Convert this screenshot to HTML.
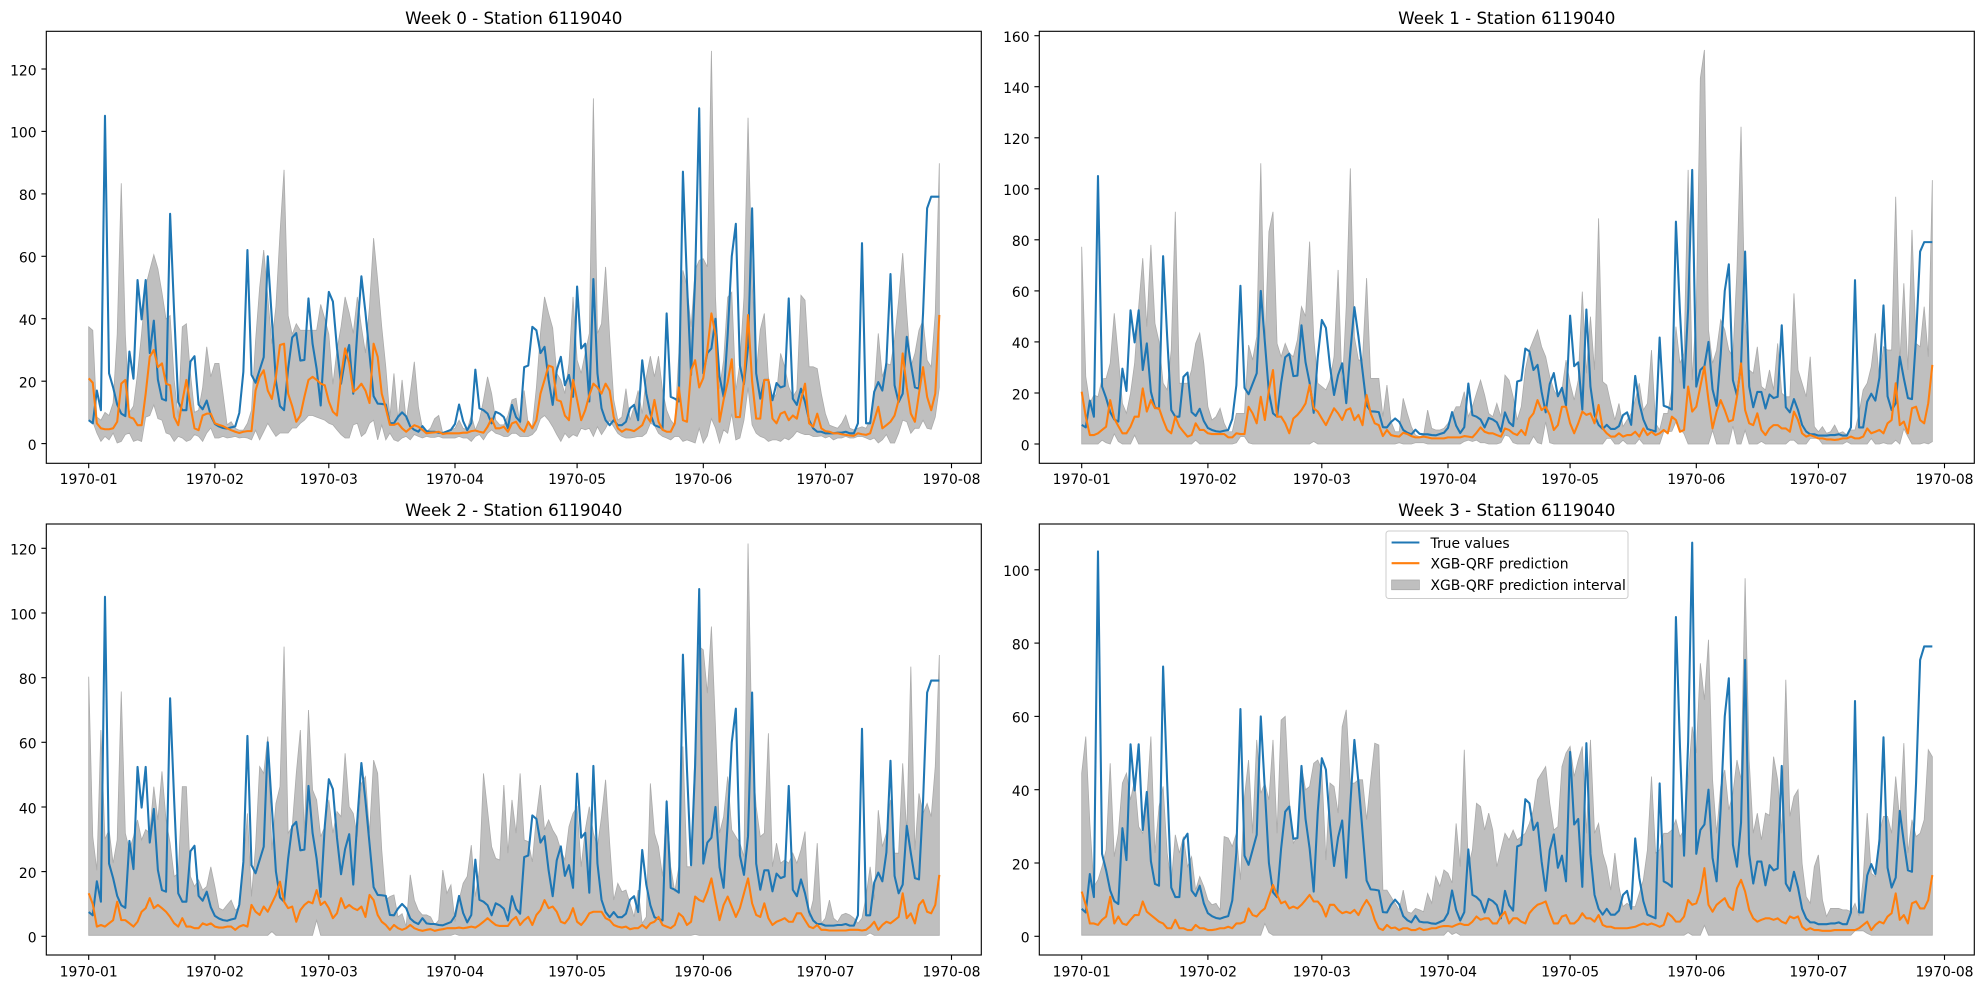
<!DOCTYPE html>
<html><head><meta charset="utf-8"><style>
html,body{margin:0;padding:0;background:#fff}
svg{display:block}
text{font-family:"DejaVu Sans","Liberation Sans",sans-serif;fill:#000}
.t{font-size:13.9px}
.ti{font-size:16.7px}
.b{fill:#bfbfbf;stroke:#ababab;stroke-width:0.8;vector-effect:non-scaling-stroke}
.lb{fill:none;stroke:#1f77b4;stroke-width:2.08;stroke-linejoin:round;vector-effect:non-scaling-stroke}
.lo{fill:none;stroke:#ff7f0e;stroke-width:2.08;stroke-linejoin:round;vector-effect:non-scaling-stroke}
.sp{fill:none;stroke:#000;stroke-width:1.11}
.tk{stroke:#000;stroke-width:1.11}
</style></head><body>
<svg width="1983" height="989" viewBox="0 0 1983 989" xmlns="http://www.w3.org/2000/svg">
<defs>
<polyline id="blue" class="lb" points="0,7.5 1,6.5 2,17 3,10.7 4,105 5,22.5 6,18 7,12.5 8,9.6 9,8.8 10,29.5 11,20.8 12,52.4 13,39.8 14,52.4 15,29 16,39.4 17,20.5 18,14.3 19,13.8 20,73.6 21,42 22,13.3 23,10.7 24,10.7 25,26.3 26,28 27,12.5 28,11 29,13.8 30,9 31,6.3 32,5.5 33,5 34,4.8 35,5.2 36,5.5 37,9.8 38,23 39,62 40,22 41,19.5 42,23.6 43,27.7 44,60 45,40 46,20 47,12 48,10.7 49,24 50,34 51,35.4 52,26.6 53,26.8 54,46.5 55,32 56,24 57,12.2 58,34 59,48.6 60,45.5 61,30.5 62,19.2 63,27 64,31.6 65,16 66,36 67,53.6 68,42 69,28.6 70,15.2 71,12.8 72,12.7 73,12.5 74,6.6 75,6.5 76,8.6 77,10 78,8.7 79,5.5 80,4.4 81,3.8 82,5.6 83,4 84,3.8 85,3.8 86,3.5 87,3.4 88,3.9 89,4.4 90,6.3 91,12.5 92,7.2 93,4.3 94,6.6 95,23.7 96,11.3 97,10.7 98,9.6 99,6.5 100,10.2 101,9.6 102,8.5 103,4.9 104,12.4 105,8.5 106,7 107,24.5 108,25 109,37.4 110,36.3 111,29 112,31 113,20.4 114,12.4 115,23.5 116,27.8 117,18.7 118,22 119,15 120,50.3 121,30.5 122,32 123,13.5 124,52.7 125,22.5 126,11.3 127,7.5 128,5.9 129,7.5 130,5.9 131,5.9 132,7 133,11.3 134,12.4 135,7.5 136,26.7 137,16 138,9.6 139,5.9 140,5.4 141,4.9 142,41.7 143,15 144,14.4 145,13.5 146,87.1 147,51.5 148,22 149,53 150,107.4 151,22.5 152,29 153,30.5 154,40 155,21.4 156,15 157,35 158,60 159,70.4 160,25 161,19 162,31 163,75.4 164,22.5 165,14.4 166,20.4 167,20.4 168,13.9 169,19.4 170,18 171,18.5 172,46.5 173,14.4 174,12.4 175,17.6 176,13.3 177,7.5 178,4.9 179,3.8 180,3.8 181,3.3 182,3.3 183,3.3 184,3.5 185,3.5 186,3.8 187,3.3 188,3.3 189,6.5 190,64.2 191,6.5 192,6.5 193,16.6 194,19.7 195,17 196,26 197,54.3 198,18.7 199,13.3 200,16 201,34.2 202,25.7 203,18 204,17.6 205,41.7 206,75.4 207,79.1 208,79.1 209,79.1"/>
<clipPath id="c1"><rect x="46.3" y="31.3" width="935" height="432"/></clipPath>
<clipPath id="c2"><rect x="1039.3" y="31.3" width="935" height="432"/></clipPath>
<clipPath id="c3"><rect x="46.3" y="524" width="935" height="431"/></clipPath>
<clipPath id="c4"><rect x="1039.3" y="524" width="935" height="431"/></clipPath>
</defs>
<rect x="0" y="0" width="1983" height="989" fill="#fff"/>

<!-- Panel 1 -->
<g clip-path="url(#c1)"><g transform="matrix(4.07 0 0 -3.1216 88.7 443.6)">
<polygon class="b" points="0,37.4 1,36.3 2,8.5 3,7.5 4,10 5,9 6,13 7,35 8,83.4 9,35 10,10 11,12 12,22.5 13,35.3 14,50.4 15,55.6 16,60.5 17,56 18,48.4 19,39.9 20,41 21,20.4 22,8.5 23,37.4 24,38.4 25,22.5 26,10 27,10.7 28,18 29,31 30,21.4 31,25.7 32,25.7 33,16 34,6 35,7 36,4.9 37,4.3 38,4.3 39,6.5 40,10.7 41,33 42,50 43,62 44,47 45,32 46,44 47,67.4 48,87.7 49,41 50,35 51,38.4 52,36.3 53,36.3 54,36.3 55,36.3 56,36.3 57,44.6 58,40 59,35 60,19 61,30 62,37.4 63,47 64,41.9 65,35.3 66,47 67,37.4 68,29 69,44 70,65.8 71,52.4 72,37.4 73,24.5 74,8.5 75,22.5 76,7.5 77,20.4 78,7.5 79,16 80,26.2 81,11.8 82,4.9 83,3.8 84,5 85,8 86,9 87,3.3 88,3.8 89,4.4 90,4.9 91,7.5 92,4.9 93,4.4 94,9 95,4.4 96,7.5 97,13.9 98,21.4 99,16 100,7.5 101,6 102,6 103,9 104,14 105,14.5 106,6 107,17 108,6 109,5.4 110,18 111,35.3 112,47 113,41.7 114,37 115,22.5 116,20.4 117,16 118,25.7 119,47 120,26.8 121,22.5 122,29 123,35.3 124,110.6 125,35.3 126,38.4 127,56.6 128,34.2 129,14 130,7.5 131,8.5 132,17.6 133,7.5 134,11.8 135,17 136,9.6 137,21.4 138,28 139,21.4 140,28 141,17 142,10.7 143,7.5 144,5.9 145,29 146,55.5 147,50.3 148,37.4 149,55.5 150,58.7 151,59.2 152,56.6 153,125.8 154,47 155,17.6 156,26.7 157,46.9 158,48.5 159,17 160,25.7 161,46.9 162,104.4 163,52.4 164,22.5 165,36.4 166,41.7 167,21.4 168,14 169,16 170,28.9 171,24.6 172,18.2 173,15 174,17.1 175,47.5 176,45.9 177,24.6 178,24.6 179,24 180,16 181,9.6 182,5.9 183,5.4 184,4.9 185,6.5 186,9.1 187,4.9 188,4.4 189,4.9 190,5.4 191,4.9 192,7.5 193,16 194,35.3 195,21.4 196,25.7 197,25.2 198,33.2 199,45.9 200,61 201,41.7 202,24.6 203,28.9 204,36.3 205,39.6 206,26.7 207,24.6 208,41.7 209,89.8 209,18 208,8.5 207,4.6 206,4.9 205,7.5 204,4.9 203,4.9 202,3.3 201,7 200,7.5 199,3.3 198,0.2 197,0.2 196,2.9 195,1.2 194,0.2 193,1.8 192,1.2 191,1.8 190,2.3 189,2.3 188,1.8 187,1.8 186,2.3 185,1.8 184,1.8 183,1.2 182,2.3 181,1.8 180,2.5 179,2.3 178,2.3 177,2.9 176,2.9 175,3.3 174,3.9 173,2.3 172,1.2 171,1.8 170,0.7 169,1.2 168,1.2 167,0.7 166,1.8 165,2.3 164,3.3 163,6 162,18 161,7.5 160,1.8 159,1.2 158,9.6 157,3.3 156,4.4 155,0.2 154,5 153,8 152,2.5 151,0.2 150,4.9 149,0.2 148,0.7 147,1.2 146,0.7 145,2.3 144,2.3 143,1.2 142,1.8 141,2.3 140,3.3 139,5.9 138,6.5 137,3.3 136,2.3 135,2.3 134,2 133,1.8 132,1.8 131,2.3 130,3.3 129,5.4 128,7.5 127,4.9 126,2.9 125,5.4 124,2.3 123,4.9 122,4.4 121,4.9 120,2.3 119,2.9 118,1.8 117,3.3 116,0.7 115,2.9 114,5.4 113,7.5 112,9 111,8 110,4.4 109,2.9 108,2.3 107,2.3 106,2.3 105,3.3 104,3.3 103,2.3 102,2.3 101,2.9 100,3.3 99,4.4 98,3.3 97,1.2 96,2.9 95,2.3 94,0.7 93,1.8 92,1.8 91,2.3 90,1.8 89,1.8 88,1.8 87,1.8 86,2.3 85,2 84,2 83,2.3 82,1.8 81,2.3 80,2.9 79,1.2 78,2.3 77,1.8 76,0.7 75,1.2 74,3.4 73,1.2 72,6 71,1.2 70,7.5 69,6.5 68,3.4 67,2.3 66,6.5 65,6 64,1.8 63,1.8 62,2.9 61,4.4 60,6 59,6.5 58,7.5 57,8 56,8.5 55,9 54,9 53,7.5 52,6.5 51,5 50,5 49,3.4 48,3.4 47,3.4 46,2.3 45,4.3 44,6.5 43,3.8 42,1.2 41,4.3 40,1.2 39,1.8 38,2 37,1.8 36,2.3 35,2 34,1.8 33,2.3 32,1.8 31,1.8 30,5 29,3.4 28,0.7 27,2.3 26,2.9 25,1.2 24,0.7 23,1.8 22,2.3 21,0.7 20,2.9 19,3.4 18,7.5 17,8 16,12.4 15,9 14,8.5 13,0.7 12,1.2 11,0.7 10,3.4 9,2.9 8,0.7 7,0.2 6,3.4 5,1.2 4,2.3 3,0.7 2,3.4 1,7 0,7.5"/>
<use href="#blue"/>
<polyline class="lo" points="0,20.9 1,19.5 2,6.5 3,4.9 4,4.6 5,4.6 6,4.9 7,7 8,19.2 9,20.4 10,8.5 11,8 12,5.9 13,5.9 14,16 15,27.8 16,30 17,24.5 18,25.7 19,19.2 20,18.7 21,8.5 22,5.9 23,13.5 24,20.4 25,12 26,4.9 27,4.3 28,9 29,9.6 30,9.6 31,6.5 32,6 33,5.6 34,4.9 35,4.3 36,3.8 37,3.4 38,3.8 39,4 40,4 41,17 42,21.4 43,23.5 44,17 45,14.3 46,21.4 47,31.6 48,32 49,16 50,12 51,7 52,9 53,15 54,20.4 55,21.4 56,20.4 57,19.2 58,18.7 59,13.5 60,10.2 61,9 62,21.4 63,30.5 64,25.7 65,16.6 66,17.6 67,19.2 68,17 69,13 70,32 71,27.8 72,16 73,11.3 74,6 75,6 76,6.5 77,4.9 78,3.8 79,4.9 80,5.9 81,5.4 82,4.4 83,3.3 84,3.5 85,3.6 86,3.8 87,3.1 88,3.3 89,3.3 90,3.3 91,3.3 92,3.5 93,3.5 94,4 95,4.2 96,3.8 97,3.5 98,5.4 99,8 100,4.9 101,4.9 102,5.4 103,3.8 104,6.5 105,7 106,4.9 107,3.8 108,7 109,4.9 110,7.5 111,16 112,20.4 113,25 114,24.5 115,14 116,13.5 117,9 118,7.5 119,20.4 120,14 121,7.5 122,10.7 123,15.5 124,19.2 125,18 126,16 127,19.2 128,17 129,8.5 130,4.9 131,3.8 132,4.6 133,4.4 134,4 135,4.9 136,5.9 137,9 138,7 139,14 140,7 141,4.4 142,3.8 143,3.8 144,6.5 145,18 146,7.5 147,7 148,23.5 149,26.7 150,18 151,21 152,30 153,41.7 154,35 155,7 156,14 157,19.7 158,27 159,8.5 160,8.5 161,20 162,41.2 163,20 164,8 165,8 166,20.4 167,20.4 168,8 169,6.5 170,9.6 171,10.2 172,7.5 173,9 174,8 175,13.9 176,19.2 177,6.5 178,5.4 179,9.6 180,4.9 181,4 182,3.8 183,3.3 184,3.3 185,3 186,2.8 187,2.6 188,2.5 189,3.3 190,3 191,2.8 192,3.3 193,7.5 194,11.8 195,4.9 196,5.9 197,7 198,9 199,13.9 200,28.9 201,18 202,9.6 203,7 204,16 205,24.5 206,15 207,10.7 208,16 209,41.2"/>
</g></g>
<rect class="sp" x="46.3" y="31.3" width="935" height="432"/>
<g class="tk">
<line x1="41.4" y1="443.6" x2="46.3" y2="443.6"/><line x1="41.4" y1="381.2" x2="46.3" y2="381.2"/><line x1="41.4" y1="318.7" x2="46.3" y2="318.7"/><line x1="41.4" y1="256.3" x2="46.3" y2="256.3"/><line x1="41.4" y1="193.9" x2="46.3" y2="193.9"/><line x1="41.4" y1="131.4" x2="46.3" y2="131.4"/><line x1="41.4" y1="69" x2="46.3" y2="69"/>
<line x1="88.7" y1="463.3" x2="88.7" y2="468.2"/><line x1="214.9" y1="463.3" x2="214.9" y2="468.2"/><line x1="328.8" y1="463.3" x2="328.8" y2="468.2"/><line x1="455" y1="463.3" x2="455" y2="468.2"/><line x1="577.1" y1="463.3" x2="577.1" y2="468.2"/><line x1="703.3" y1="463.3" x2="703.3" y2="468.2"/><line x1="825.4" y1="463.3" x2="825.4" y2="468.2"/><line x1="951.5" y1="463.3" x2="951.5" y2="468.2"/>
</g>
<g class="t" text-anchor="end">
<text x="36.6" y="449.9">0</text><text x="36.6" y="387.5">20</text><text x="36.6" y="325">40</text><text x="36.6" y="262.6">60</text><text x="36.6" y="200.2">80</text><text x="36.6" y="137.7">100</text><text x="36.6" y="75.3">120</text>
</g>
<g class="t" text-anchor="middle">
<text x="88.7" y="484">1970-01</text><text x="214.9" y="484">1970-02</text><text x="328.8" y="484">1970-03</text><text x="455" y="484">1970-04</text><text x="577.1" y="484">1970-05</text><text x="703.3" y="484">1970-06</text><text x="825.4" y="484">1970-07</text><text x="951.5" y="484">1970-08</text>
</g>
<text class="ti" x="513.8" y="24" text-anchor="middle">Week 0 - Station 6119040</text>

<!-- Panel 2 -->
<g clip-path="url(#c2)"><g transform="matrix(4.07 0 0 -2.552 1081.7 444)">
<polygon class="b" points="0,77.3 1,26.4 2,15.9 3,19.2 4,18.5 5,25.5 6,25.7 7,31.6 8,51.2 9,34.2 10,15.9 11,12 12,19.9 13,31.6 14,53.8 15,72.8 16,46 17,78 18,47.3 19,40.1 20,23.8 21,21.2 22,36.8 23,91 24,23.8 25,23.8 26,23.8 27,29 28,39.4 29,43.4 30,31.6 31,14.6 32,9.4 33,10.7 34,14 35,8.1 36,4.8 37,4.8 38,12 39,12 40,12 41,38.8 42,32.9 43,42 44,110 45,38.1 46,83.2 47,91 48,39.4 49,34.2 50,39.4 51,35.5 52,34.2 53,40.8 54,53.8 55,50 56,79.3 57,42 58,23.8 59,22.5 60,21.2 61,25 62,34.2 63,68.2 64,21.2 65,53.8 66,108 67,42 68,32.9 69,32.9 70,65 71,25.7 72,25.7 73,25.7 74,10.7 75,23.1 76,8.8 77,4.8 78,4.8 79,17.9 80,12 81,6.8 82,3.5 83,2.9 84,3.5 85,13.3 86,6.1 87,5.5 88,5.5 89,6.1 90,8.1 91,11.4 92,14.6 93,14.6 94,20.5 95,10.7 96,14.6 97,19.9 98,25 99,19.2 100,12 101,10.7 102,15.9 103,10.7 104,27 105,25 106,18.5 107,9.4 108,14.6 109,29 110,36.8 111,40.8 112,44.7 113,38.1 114,34.2 115,26.4 116,21.2 117,18.5 118,21.2 119,32.9 120,23.8 121,17.2 122,25 123,59.7 124,27.7 125,49.9 126,29 127,88.4 128,24.4 129,23.1 130,15.9 131,9.4 132,15.9 133,6.8 134,9.4 135,12 136,17.2 137,23.8 138,13.3 139,15.9 140,36.8 141,8.1 142,5.5 143,12 144,12 145,21.2 146,46 147,31.6 148,35.5 149,107.4 150,25 151,52.5 152,143.3 153,154.4 154,44.7 155,31.6 156,36.8 157,48.6 158,44.7 159,36.8 160,34.2 161,68.2 162,124.3 163,48.6 164,29 165,27.7 166,38.1 167,22.5 168,21.2 169,29 170,21.2 171,39.4 172,19.9 173,18.5 174,18.5 175,59 176,29 177,23.8 178,18.5 179,34.2 180,6.8 181,4.8 182,6.8 183,4.2 184,4.8 185,7.4 186,4.2 187,4.8 188,3.5 189,5.5 190,5.5 191,12 192,21.2 193,23.8 194,30.3 195,43.4 196,25 197,38.1 198,36.8 199,36.8 200,96.9 201,31.6 202,63 203,29 204,83.9 205,39.4 206,38.1 207,53.8 208,34.2 209,103.4 209,0.9 208,0 207,0.5 206,0 204,0 203,2.9 202,6 201,0 200,1.5 199,0 198,0 197,0.5 196,0 195,0 194,2.2 193,0 189,0 188,0.9 187,0 182,0 181,2.2 180,2.2 179,2.2 178,0 176,0 175,1.5 174,1.5 173,0 168,0 167,1 166,0 164,0 163,5.4 162,0 161,0 160,7 159,0 156,0 155,5.4 154,0 149,0 148,4 147,6 146,8.7 145,5 144,4.8 143,4.8 142,0 138,0 137,2 136,0 134,0 133,1.5 132,0 131,0 130,2.2 129,2.2 128,0 116,0 115,0.5 114,8.7 113,0 112,0.5 111,3 110,0 107,0 106,0.5 105,3 104,3.5 103,0.5 102,0 100,0 99,0.5 98,0.5 97,1.5 96,1 95,1.5 94,1 93,0 85,0 84,0.5 83,0.5 82,0.5 81,0 79,0 78,0.5 77,0 58,0 57,1 56,0 42,0 41,0.5 40,2.9 39,2.9 38,0.5 37,0 29,0 28,1.5 27,0 14,0 13,3.5 12,0 10,0 9,1 8,4 7,0 6,0.5 5,1.5 4,0 0,0"/>
<use href="#blue"/>
<polyline class="lo" points="0,20.5 1,10.7 2,3.5 3,3.5 4,4.2 5,5.5 6,6.8 7,17.2 8,10 9,7 10,4.2 11,4.2 12,6.8 13,10.7 14,10.7 15,21.8 16,12.7 17,17.2 18,14 19,14 20,9.4 21,5.5 22,4.2 23,10.7 24,6.8 25,4.8 26,2.9 27,3.5 28,8.1 29,5.5 30,5.5 31,4.2 32,3.9 33,3.9 34,3.9 35,3.9 36,2.6 37,2.6 38,4.2 39,3.9 40,3.9 41,14.6 42,12 43,8.1 44,18.5 45,9.4 46,21.2 47,29 48,10.7 49,10.7 50,8.1 51,4.2 52,10 53,11.4 54,13.3 55,15.9 56,23.1 57,14 58,12.7 59,10 60,7.4 61,10.7 62,14 63,12 64,9.4 65,13.3 66,14 67,9.4 68,11.4 69,7.4 70,19.2 71,12 72,8.1 73,7.4 74,3.1 75,5.5 76,3.5 77,3.1 78,2.9 79,4.4 80,3.9 81,3.1 82,2.6 83,2.6 84,2.9 85,2.6 86,2.2 87,2.2 88,2.2 89,2.2 90,2.6 91,2.6 92,2.6 93,2.6 94,3.1 95,2.9 96,2.6 97,4.4 98,6.5 99,4.8 100,4.2 101,4.2 102,3.5 103,2.9 104,6.1 105,5.5 106,4.2 107,3.5 108,5.5 109,3.5 110,10 111,12 112,17.2 113,13.3 114,14.6 115,11.4 116,5.5 117,7.4 118,14.6 119,14.6 120,8.1 121,4.2 122,8.1 123,12.7 124,11.4 125,12 126,8.1 127,15.3 128,6.1 129,4.2 130,2.9 131,2.9 132,4.2 133,2.9 134,3.5 135,3.5 136,4.8 137,2.9 138,6.1 139,3.5 140,4.8 141,3.5 142,4.2 143,5.5 144,4.2 145,10.7 146,9.4 147,4.8 148,5.5 149,22.5 150,12.7 151,14.6 152,22.5 153,30.3 154,17.2 155,6.1 156,12.7 157,17.2 158,13.3 159,8.8 160,9.4 161,18.5 162,31.6 163,13.3 164,8.1 165,7.4 166,12 167,5.5 168,3.5 169,6.1 170,7.4 171,7.4 172,6.1 173,6.1 174,4.8 175,12.7 176,9.4 177,4.2 178,2.9 179,3.5 180,2.9 181,2.2 182,2.2 183,1.8 184,1.8 185,1.6 186,1.8 187,2.2 188,2.2 189,2.9 190,2.2 191,2.2 192,2.9 193,6.1 194,4.2 195,4.8 196,5.5 197,4.2 198,8.1 199,9.4 200,23.8 201,7.4 202,8.8 203,4.2 204,14 205,14.6 206,9.4 207,8.1 208,16 209,31"/>
</g></g>
<rect class="sp" x="1039.3" y="31.3" width="935" height="432"/>
<g class="tk">
<line x1="1034.4" y1="444" x2="1039.3" y2="444"/><line x1="1034.4" y1="393" x2="1039.3" y2="393"/><line x1="1034.4" y1="341.9" x2="1039.3" y2="341.9"/><line x1="1034.4" y1="290.9" x2="1039.3" y2="290.9"/><line x1="1034.4" y1="239.8" x2="1039.3" y2="239.8"/><line x1="1034.4" y1="188.8" x2="1039.3" y2="188.8"/><line x1="1034.4" y1="137.8" x2="1039.3" y2="137.8"/><line x1="1034.4" y1="86.7" x2="1039.3" y2="86.7"/><line x1="1034.4" y1="35.7" x2="1039.3" y2="35.7"/>
<line x1="1081.7" y1="463.3" x2="1081.7" y2="468.2"/><line x1="1207.9" y1="463.3" x2="1207.9" y2="468.2"/><line x1="1321.8" y1="463.3" x2="1321.8" y2="468.2"/><line x1="1448" y1="463.3" x2="1448" y2="468.2"/><line x1="1570.1" y1="463.3" x2="1570.1" y2="468.2"/><line x1="1696.3" y1="463.3" x2="1696.3" y2="468.2"/><line x1="1818.4" y1="463.3" x2="1818.4" y2="468.2"/><line x1="1944.5" y1="463.3" x2="1944.5" y2="468.2"/>
</g>
<g class="t" text-anchor="end">
<text x="1029.6" y="450.3">0</text><text x="1029.6" y="399.3">20</text><text x="1029.6" y="348.2">40</text><text x="1029.6" y="297.2">60</text><text x="1029.6" y="246.1">80</text><text x="1029.6" y="195.1">100</text><text x="1029.6" y="144.1">120</text><text x="1029.6" y="93">140</text><text x="1029.6" y="42">160</text>
</g>
<g class="t" text-anchor="middle">
<text x="1081.7" y="484">1970-01</text><text x="1207.9" y="484">1970-02</text><text x="1321.8" y="484">1970-03</text><text x="1448" y="484">1970-04</text><text x="1570.1" y="484">1970-05</text><text x="1696.3" y="484">1970-06</text><text x="1818.4" y="484">1970-07</text><text x="1944.5" y="484">1970-08</text>
</g>
<text class="ti" x="1506.8" y="24" text-anchor="middle">Week 1 - Station 6119040</text>

<!-- Panel 3 -->
<g clip-path="url(#c3)"><g transform="matrix(4.07 0 0 -3.233 88.7 936.3)">
<polygon class="b" points="0,80.3 1,30.8 2,20.4 3,63.8 4,30 5,33 6,22.6 7,29.8 8,75.7 9,31.9 10,26.7 11,30.8 12,36 13,29.8 14,33 15,32 16,46.3 17,36 18,51 19,36 20,28.8 21,18.5 22,19.5 23,46.3 24,46.3 25,18.5 26,15.4 27,17.4 28,14.3 29,15.4 30,21.5 31,15.4 32,8.7 33,8.1 34,9.7 35,11.2 36,8.1 37,9 38,21.5 39,38 40,12.3 41,27.7 42,52.5 43,50.4 44,61.8 45,26.7 46,41.1 47,46.3 48,89.6 49,31.9 50,33.9 51,50.4 52,63.8 53,31.9 54,70 55,45.3 56,42.2 57,30.8 58,33.9 59,42.2 60,31.9 61,38.6 62,37 63,56.6 64,40.1 65,38 66,30.8 67,47.3 68,49.4 69,31.9 70,54.5 71,50.4 72,26.7 73,11.2 74,12.3 75,12.8 76,6 77,7 78,3 79,19 80,11.2 81,8 82,6.6 83,6.6 84,6 85,3.5 86,5 87,20.5 88,13.3 89,15.9 90,4.5 91,11.2 92,16.4 93,18.5 94,28.2 95,12.3 96,20.5 97,50.4 98,39 99,27.7 100,24.1 101,23.6 102,46.8 103,25.7 104,42.2 105,31.9 106,50.4 107,29.8 108,29.3 109,23 110,37 111,46.8 112,32.9 113,36 114,32.9 115,30.8 116,26.7 117,23.6 118,33.9 119,38 120,40.1 121,21.5 122,32.9 123,40.1 124,31.9 125,27.7 126,37 127,48.4 128,28.8 129,11.2 130,16.4 131,13.8 132,14.3 133,10.2 134,6 135,14.3 136,4 137,6 138,47.3 139,31.9 140,27.7 141,18.5 142,42.2 143,21.5 144,13.8 145,21.5 146,58.7 147,21.5 148,21.5 149,58.7 150,89.6 151,88.6 152,75.2 153,95.8 154,64.8 155,31.9 156,37 157,49.4 158,32.9 159,30.8 160,28.8 161,24.6 162,121.5 163,56.6 164,40.1 165,30.8 166,31.9 167,62.8 168,21.5 169,28.8 170,22.6 171,23.6 172,22.6 173,25.7 174,22.6 175,26.7 176,32.4 177,6 178,11.2 179,28.8 180,4 181,5.6 182,11.2 183,5.6 184,4.5 185,6.6 186,7.1 187,6.6 188,5.6 189,4 190,5.6 191,12.3 192,21.5 193,11.2 194,39 195,27.7 196,31.9 197,42.2 198,25.7 199,25.7 200,53.5 201,31.9 202,83.4 203,26.7 204,44.2 205,38 206,41.1 207,37 208,52.5 209,87 209,0.3 193,0.3 192,1 191,0.3 150,0.3 149,0.6 148,0.3 91,0.3 90,0.7 89,0.3 57,0.3 56,5 55,0.3 46,0.3 45,1.5 44,0.3 0,0.3"/>
<use href="#blue"/>
<polyline class="lo" points="0,13.3 1,10 2,3 3,3.5 4,3 5,4 6,5 7,10.7 8,5 9,5 10,4 11,3 12,4.5 13,7.6 14,8.7 15,11.8 16,8.7 17,9.7 18,8.7 19,7.6 20,6 21,4 22,3 23,5.6 24,3 25,3 26,2.5 27,2.5 28,4 29,3.5 30,4 31,3 32,2.7 33,2.7 34,3 35,3 36,2 37,3 38,3.5 39,3 40,9.7 41,7.6 42,6.6 43,9.2 44,7.6 45,10.2 46,12.8 47,16.9 48,10.7 49,8.7 50,9.2 51,4.5 52,8.1 53,9.7 54,10.7 55,10.2 56,14.3 57,9.7 58,10.7 59,8.7 60,5.6 61,7.1 62,11.8 63,8.7 64,9.7 65,8.7 66,8.1 67,9.2 68,6 69,12.8 70,11.2 71,6.6 72,4.5 73,3.5 74,2 75,3.5 76,2.5 77,2 78,2.5 79,3.5 80,2.5 81,2 82,1.7 83,2 84,2.2 85,1.7 86,2 87,2.2 88,2.5 89,2.5 90,2.5 91,2.7 92,2.5 93,2.7 94,3 95,2.7 96,3.5 97,4.5 98,5.6 99,4.5 100,3.5 101,3.2 102,3.2 103,3.2 104,5 105,6 106,3.5 107,5 108,6 109,3.5 110,6.6 111,8.1 112,11.2 113,8.7 114,9.2 115,7.6 116,4.5 117,4 118,5.6 119,8.7 120,4.5 121,3.5 122,5 123,7.1 124,7.6 125,7.6 126,7.6 127,5.6 128,5 129,3.5 130,3 131,2.7 132,3 133,2.2 134,2.5 135,2.5 136,3.5 137,2.5 138,4 139,4.5 140,6 141,3.5 142,3 143,2.5 144,3.5 145,7.1 146,6 147,3.5 148,4.5 149,12.3 150,11.2 151,10.7 152,13.8 153,17.9 154,11.2 155,5 156,9.7 157,12.3 158,9.2 159,6 160,8.7 161,13.3 162,17.9 163,10.2 164,6.6 165,6 166,10.2 167,5.6 168,3.5 169,4.5 170,5 171,5.6 172,4.5 173,4.5 174,7.1 175,7.1 176,5 177,3 178,2.5 179,3.5 180,2 181,2 182,1.8 183,1.8 184,1.8 185,1.8 186,1.8 187,2 188,2 189,2 190,1.8 191,2 192,3 193,4.5 194,2 195,3.5 196,4.5 197,4 198,5 199,6 200,13.3 201,5.6 202,7.1 203,4 204,9.7 205,11.2 206,7.6 207,7.1 208,9.7 209,19"/>
</g></g>
<rect class="sp" x="46.3" y="524" width="935" height="431"/>
<g class="tk">
<line x1="41.4" y1="936.3" x2="46.3" y2="936.3"/><line x1="41.4" y1="871.6" x2="46.3" y2="871.6"/><line x1="41.4" y1="807" x2="46.3" y2="807"/><line x1="41.4" y1="742.3" x2="46.3" y2="742.3"/><line x1="41.4" y1="677.7" x2="46.3" y2="677.7"/><line x1="41.4" y1="613" x2="46.3" y2="613"/><line x1="41.4" y1="548.3" x2="46.3" y2="548.3"/>
<line x1="88.7" y1="955" x2="88.7" y2="959.9"/><line x1="214.9" y1="955" x2="214.9" y2="959.9"/><line x1="328.8" y1="955" x2="328.8" y2="959.9"/><line x1="455" y1="955" x2="455" y2="959.9"/><line x1="577.1" y1="955" x2="577.1" y2="959.9"/><line x1="703.3" y1="955" x2="703.3" y2="959.9"/><line x1="825.4" y1="955" x2="825.4" y2="959.9"/><line x1="951.5" y1="955" x2="951.5" y2="959.9"/>
</g>
<g class="t" text-anchor="end">
<text x="36.6" y="942.6">0</text><text x="36.6" y="877.9">20</text><text x="36.6" y="813.3">40</text><text x="36.6" y="748.6">60</text><text x="36.6" y="684">80</text><text x="36.6" y="619.3">100</text><text x="36.6" y="554.6">120</text>
</g>
<g class="t" text-anchor="middle">
<text x="88.7" y="976.5">1970-01</text><text x="214.9" y="976.5">1970-02</text><text x="328.8" y="976.5">1970-03</text><text x="455" y="976.5">1970-04</text><text x="577.1" y="976.5">1970-05</text><text x="703.3" y="976.5">1970-06</text><text x="825.4" y="976.5">1970-07</text><text x="951.5" y="976.5">1970-08</text>
</g>
<text class="ti" x="513.8" y="516" text-anchor="middle">Week 2 - Station 6119040</text>

<!-- Panel 4 -->
<g clip-path="url(#c4)"><g transform="matrix(4.07 0 0 -3.665 1081.7 936.3)">
<polygon class="b" points="0,44.5 1,54.5 2,30.8 3,13.6 4,15.4 5,19 6,23.6 7,47.2 8,21.7 9,28.1 10,41.8 11,44.5 12,37.2 13,42.7 14,29.9 15,28.1 16,37.2 17,54.5 18,22.7 19,35.4 20,40.9 21,22.7 22,14.5 23,27.7 24,22.7 25,27.2 26,19 27,21.7 28,12.6 29,16.3 30,13.6 31,9.9 32,8.6 33,9 34,7.2 35,27.2 36,26.8 37,24.5 38,28.1 39,15.4 40,38.1 41,48.1 42,28.1 43,53.6 44,39 45,41.8 46,37.2 47,53.6 48,28.1 49,59 50,60 51,37.2 52,25.4 53,27.2 54,46.3 55,40 56,40.9 57,47.2 58,48.1 59,45.4 60,20.8 61,41.8 62,40.9 63,33.6 64,57.2 65,61.8 66,41.8 67,41.8 68,42.7 69,42.7 70,31.8 71,42.7 72,52.7 73,52.2 74,12.6 75,12.6 76,10.8 77,9 78,7.2 79,12.6 80,6.7 81,6.3 82,7.6 83,7.2 84,6.7 85,11.7 86,9 87,16.3 88,13.6 89,18.1 90,17.2 91,14.5 92,30.8 93,19 94,50.9 95,19 96,23.6 97,36.3 98,35.4 99,29 100,33.6 101,29 102,19 103,23.6 104,28.1 105,26.3 106,29 107,26.3 108,27.2 109,28.1 110,30.8 111,34.5 112,42.7 113,44.5 114,46.3 115,36.3 116,29 117,29.9 118,46.3 119,50 120,51.8 121,43.6 122,48.1 123,51.8 124,28.1 125,53.6 126,28.1 127,30.8 128,22.7 129,19 130,12.6 131,22.7 132,13.6 133,8.1 134,9 135,8.1 136,8.1 137,11.7 138,15.4 139,23.6 140,43.6 141,22.7 142,23.6 143,28.1 144,28.1 145,29 146,31.8 147,27.2 148,29 149,42.7 150,57.2 151,50 152,74.5 153,64.5 154,80.9 155,42.7 156,28.1 157,40.9 158,45.4 159,34.5 160,39 161,48.1 162,42.7 163,97.7 164,48.1 165,28.1 166,33.6 167,26.3 168,33.6 169,33 170,49 171,42.7 172,28.1 173,70 174,32.7 175,38.1 176,40 177,19.9 178,10.8 179,9 180,19 181,22.2 182,9.9 183,5.4 184,7.6 185,7.6 186,7.6 187,7.2 188,7.2 189,6.7 190,9 191,5.5 192,15.4 193,33.6 194,17.2 195,16.3 196,28.1 197,32.7 198,32.7 199,28.1 200,43.6 201,31.8 202,52.7 203,22.7 204,31.8 205,27.2 206,28.1 207,31.8 208,50.9 209,49 209,0.3 194,0.3 193,0.8 192,1.5 191,1.5 190,1.5 189,0.3 154,0.3 153,3 152,0.3 150,0.3 149,1 148,0.3 93,0.3 92,1 91,0.5 90,1.5 89,0.3 47,0.3 46,1 45,3.5 44,0.3 0,0.3"/>
<use href="#blue"/>
<polyline class="lo" points="0,12.2 1,8.6 2,3.5 3,3.5 4,3.1 5,4.5 6,5.4 7,10.8 8,3.5 9,5.4 10,3.5 11,3.1 12,4.5 13,5.8 14,5.8 15,9.5 16,6.7 17,5.8 18,4.9 19,4 20,3.5 21,2.2 22,2.2 23,4.5 24,2.2 25,2.2 26,1.7 27,1.7 28,3.1 29,2.2 30,2.2 31,1.7 32,1.7 33,1.9 34,2.2 35,2.2 36,2.6 37,2.2 38,3.5 39,3.5 40,4 41,7.6 42,5.8 43,5.4 44,6.7 45,7.6 46,10.8 47,14 48,11.3 49,9 50,9.5 51,7.6 52,8.1 53,7.6 54,8.6 55,9.9 56,11.3 57,9.5 58,9.5 59,8.1 60,5.4 61,8.6 62,8.6 63,7.2 64,6.3 65,6.7 66,6.3 67,7.2 68,5.8 69,8.1 70,9.9 71,8.1 72,4.5 73,2.2 74,1.7 75,3.1 76,2.2 77,2.4 78,1.7 79,2.2 80,2.2 81,1.7 82,1.7 83,2.2 84,1.7 85,1.9 86,2.2 87,2.2 88,2.6 89,2.8 90,2.8 91,2.6 92,3.1 93,3.5 94,3.1 95,3.1 96,4 97,5.4 98,4.5 99,4.9 100,4.9 101,3.5 102,3.5 103,5.4 104,6.7 105,3.5 106,4.9 107,4.9 108,4 109,3.5 110,6.3 111,7.6 112,8.6 113,9 114,9.5 115,6.3 116,3.5 117,3.5 118,5.4 119,5.8 120,3.5 121,3.5 122,4.5 123,6.3 124,4.9 125,4.9 126,4 127,5.8 128,3.1 129,2.6 130,2.6 131,2.2 132,2.2 133,2.2 134,2.2 135,2.4 136,2.6 137,3.1 138,3.5 139,3.1 140,3.5 141,3.1 142,2.6 143,3.1 144,6.3 145,5.4 146,4 147,4 148,5.4 149,9.9 150,8.6 151,9 152,12.2 153,18.6 154,8.6 155,6.7 156,8.6 157,9.5 158,10.4 159,8.1 160,7.2 161,13.1 162,15.4 163,12.2 164,7.2 165,4.9 166,4 167,4.5 168,4.9 169,4.9 170,4.5 171,4.9 172,4 173,3.5 174,5.4 175,4.9 176,5.4 177,2.6 178,1.7 179,2.2 180,1.7 181,1.7 182,1.5 183,1.5 184,1.5 185,1.7 186,1.7 187,1.7 188,1.7 189,1.7 190,1.7 191,2.2 192,3.1 193,4 194,1.7 195,3.1 196,4 197,3.5 198,5.4 199,6.3 200,11.7 201,4.5 202,5.8 203,3.5 204,9 205,9.5 206,7.6 207,7.6 208,9.9 209,16.7"/>
</g></g>
<rect class="sp" x="1039.3" y="524" width="935" height="431"/>
<g class="tk">
<line x1="1034.4" y1="936.3" x2="1039.3" y2="936.3"/><line x1="1034.4" y1="863" x2="1039.3" y2="863"/><line x1="1034.4" y1="789.7" x2="1039.3" y2="789.7"/><line x1="1034.4" y1="716.4" x2="1039.3" y2="716.4"/><line x1="1034.4" y1="643.1" x2="1039.3" y2="643.1"/><line x1="1034.4" y1="569.8" x2="1039.3" y2="569.8"/>
<line x1="1081.7" y1="955" x2="1081.7" y2="959.9"/><line x1="1207.9" y1="955" x2="1207.9" y2="959.9"/><line x1="1321.8" y1="955" x2="1321.8" y2="959.9"/><line x1="1448" y1="955" x2="1448" y2="959.9"/><line x1="1570.1" y1="955" x2="1570.1" y2="959.9"/><line x1="1696.3" y1="955" x2="1696.3" y2="959.9"/><line x1="1818.4" y1="955" x2="1818.4" y2="959.9"/><line x1="1944.5" y1="955" x2="1944.5" y2="959.9"/>
</g>
<g class="t" text-anchor="end">
<text x="1029.6" y="942.6">0</text><text x="1029.6" y="869.3">20</text><text x="1029.6" y="796">40</text><text x="1029.6" y="722.7">60</text><text x="1029.6" y="649.4">80</text><text x="1029.6" y="576.1">100</text>
</g>
<g class="t" text-anchor="middle">
<text x="1081.7" y="976.5">1970-01</text><text x="1207.9" y="976.5">1970-02</text><text x="1321.8" y="976.5">1970-03</text><text x="1448" y="976.5">1970-04</text><text x="1570.1" y="976.5">1970-05</text><text x="1696.3" y="976.5">1970-06</text><text x="1818.4" y="976.5">1970-07</text><text x="1944.5" y="976.5">1970-08</text>
</g>
<text class="ti" x="1506.8" y="516" text-anchor="middle">Week 3 - Station 6119040</text>

<!-- Legend -->
<rect x="1386" y="531" width="242" height="67.5" rx="2.8" ry="2.8" fill="#fff" fill-opacity="0.8" stroke="#cccccc" stroke-width="1"/>
<line x1="1391.6" y1="542.5" x2="1419.4" y2="542.5" stroke="#1f77b4" stroke-width="2.08"/>
<line x1="1391.6" y1="563.2" x2="1419.4" y2="563.2" stroke="#ff7f0e" stroke-width="2.08"/>
<rect x="1391.6" y="580" width="27.8" height="9.7" fill="#bfbfbf" stroke="#ababab" stroke-width="0.8"/>
<g class="t">
<text x="1430.5" y="548">True values</text>
<text x="1430.5" y="568.7">XGB-QRF prediction</text>
<text x="1430.5" y="589.8">XGB-QRF prediction interval</text>
</g>
</svg>
</body></html>
